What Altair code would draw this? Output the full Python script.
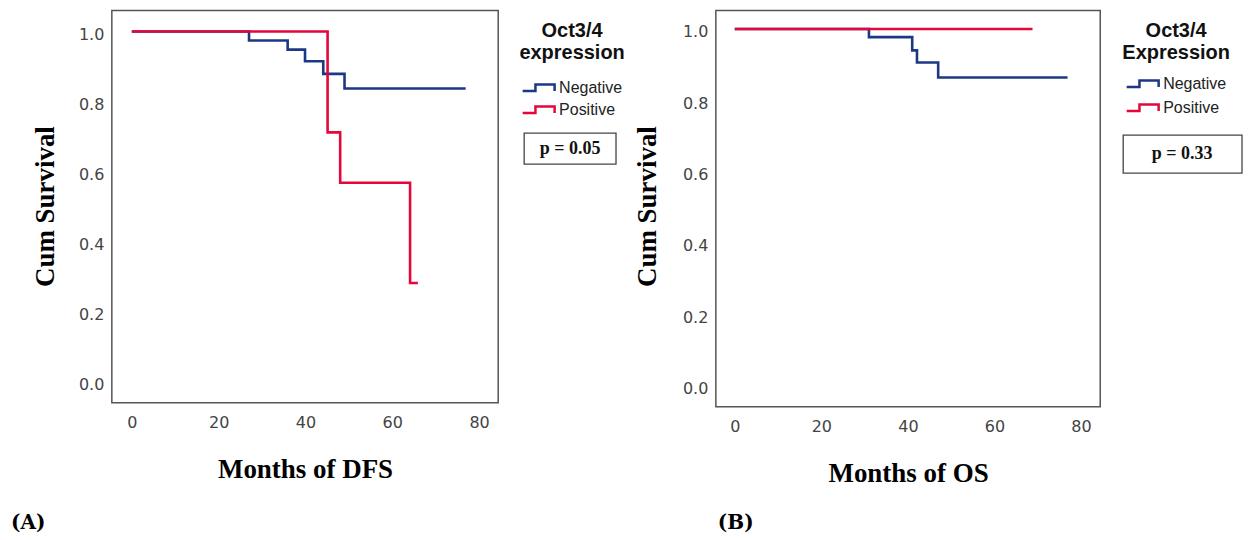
import altair as alt
import pandas as pd

# ---- data ----
groups = ["Negative", "Positive"]
colors = ["#1c3784", "#e3073c"]

# Panel A: DFS
dfs_neg_t = [0, 27.0, 35.9, 39.9, 44.1, 49.0, 76.9]
dfs_neg_s = [1.0, 0.974, 0.948, 0.915, 0.879, 0.837, 0.837]
dfs_pos_t = [0, 45.1, 48.0, 64.1, 65.9]
dfs_pos_s = [1.0, 0.712, 0.568, 0.282, 0.282]

# Panel B: OS
os_neg_t = [0, 31.0, 41.0, 42.1, 47.0, 76.9]
os_neg_s = [1.0, 0.977, 0.940, 0.906, 0.864, 0.864]
os_pos_t = [0, 68.8]
os_pos_s = [1.0, 1.0]

x_ticks = [0, 20, 40, 60, 80]
y_ticks = [0.0, 0.2, 0.4, 0.6, 0.8, 1.0]
p_values = ["p = 0.05", "p = 0.33"]
tags = ["(A)", "(B)"]
x_titles = ["Months of DFS", "Months of OS"]
legend_titles = [["Oct3/4", "expression"], ["Oct3/4", "Expression"]]

STEP_PATH = "M-1,0.4H0.6V-0.4H3V0.4"


def make_df(nt, ns, pt, ps):
    rows = [{"t": t, "s": s, "group": groups[0]} for t, s in zip(nt, ns)]
    rows += [{"t": t, "s": s, "group": groups[1]} for t, s in zip(pt, ps)]
    return pd.DataFrame(rows)


def panel(df, xdom, ydom, w, h, xtitle, ltitle, legx, legy, rowpad, tpad,
          ptext, rect, ptpos, tag, tagx, ytx):
    color = alt.Color(
        "group:N",
        scale=alt.Scale(domain=groups, range=colors),
        legend=alt.Legend(
            title=ltitle, orient="none", legendX=legx, legendY=legy,
            titleFont="Liberation Sans", titleFontSize=20, titleFontWeight="bold",
            titleColor="#111", titleAlign="center", titleAnchor="middle",
            titleLineHeight=22, titlePadding=tpad,
            labelFont="Liberation Sans", labelFontSize=16, labelColor="#222",
            labelOffset=19, rowPadding=rowpad,
            symbolType=STEP_PATH, symbolSize=256, symbolStrokeWidth=2.5,
            symbolFillColor="transparent",
        ),
    )
    lines = alt.Chart(df).mark_line(
        interpolate="step-after", strokeWidth=2.6, clip=True
    ).encode(
        x=alt.X("t:Q", scale=alt.Scale(domain=xdom, nice=False, zero=False),
                axis=alt.Axis(values=x_ticks, title=xtitle, grid=False, ticks=False,
                              domain=False, labelFont="DejaVu Sans", labelFontSize=16,
                              labelColor="#444", labelPadding=12,
                              titleFont="Liberation Serif", titleFontSize=27,
                              titleFontWeight="bold", titleColor="#000",
                              titleY=75, titleBaseline="alphabetic")),
        y=alt.Y("s:Q", scale=alt.Scale(domain=ydom, nice=False, zero=False),
                axis=alt.Axis(values=y_ticks, format=".1f", title="Cum Survival",
                              grid=False, ticks=False, domain=False,
                              labelFont="DejaVu Sans", labelFontSize=16,
                              labelColor="#444", labelPadding=8, labelOffset=3,
                              titleFont="Liberation Serif", titleFontSize=27,
                              titleFontWeight="bold", titleColor="#000",
                              titleX=ytx, titleY=196, titleAngle=270,
                              titleAlign="center", titleBaseline="alphabetic")),
        color=color,
    )
    one = pd.DataFrame({"p": [ptext], "tag": [tag]})
    box = alt.Chart(one).mark_rect(fill="white", stroke="#444", strokeWidth=1.3).encode(
        x=alt.value(rect[0]), x2=alt.value(rect[1]),
        y=alt.value(rect[2]), y2=alt.value(rect[3]),
    )
    ptxt = alt.Chart(one).mark_text(
        font="Liberation Serif", fontWeight="bold", fontSize=18,
        align="center", baseline="middle", color="#111",
    ).encode(text="p:N", x=alt.value(ptpos[0]), y=alt.value(ptpos[1]))
    tagtxt = alt.Chart(one).mark_text(
        font="DejaVu Serif", fontWeight="bold", fontSize=20,
        align="left", baseline="middle", color="#000",
    ).encode(text="tag:N", x=alt.value(tagx), y=alt.value(513))
    return alt.layer(lines, box, ptxt, tagtxt).properties(width=w, height=h)


dfA = make_df(dfs_neg_t, dfs_neg_s, dfs_pos_t, dfs_pos_s)
dfB = make_df(os_neg_t, os_neg_s, os_pos_t, os_pos_s)

A = panel(dfA, [-4.6, 84.4], [-0.060, 1.060], 387, 393, x_titles[0], legend_titles[0],
          408, 11, 4, 15, p_values[0], (413, 505, 123, 154), (459, 139), tags[0], -101, -58)
B = panel(dfB, [-4.38, 84.45], [-0.060, 1.052], 385, 397, x_titles[1], legend_titles[1],
          407, 11, 6, 11, p_values[1], (408, 527, 125, 163), (467, 144), tags[1], 2, -60)

chart = alt.hconcat(A, B, spacing=218, bounds="flush").resolve_scale(
    color="independent", x="independent", y="independent"
).resolve_legend(color="independent").configure_view(
    stroke="#555", strokeWidth=1.5
).properties(
    padding={"left": 2, "top": 1, "right": 0, "bottom": 0}, background="white"
)

chart.save("out.html", embed_options={"renderer": "svg", "actions": False})
